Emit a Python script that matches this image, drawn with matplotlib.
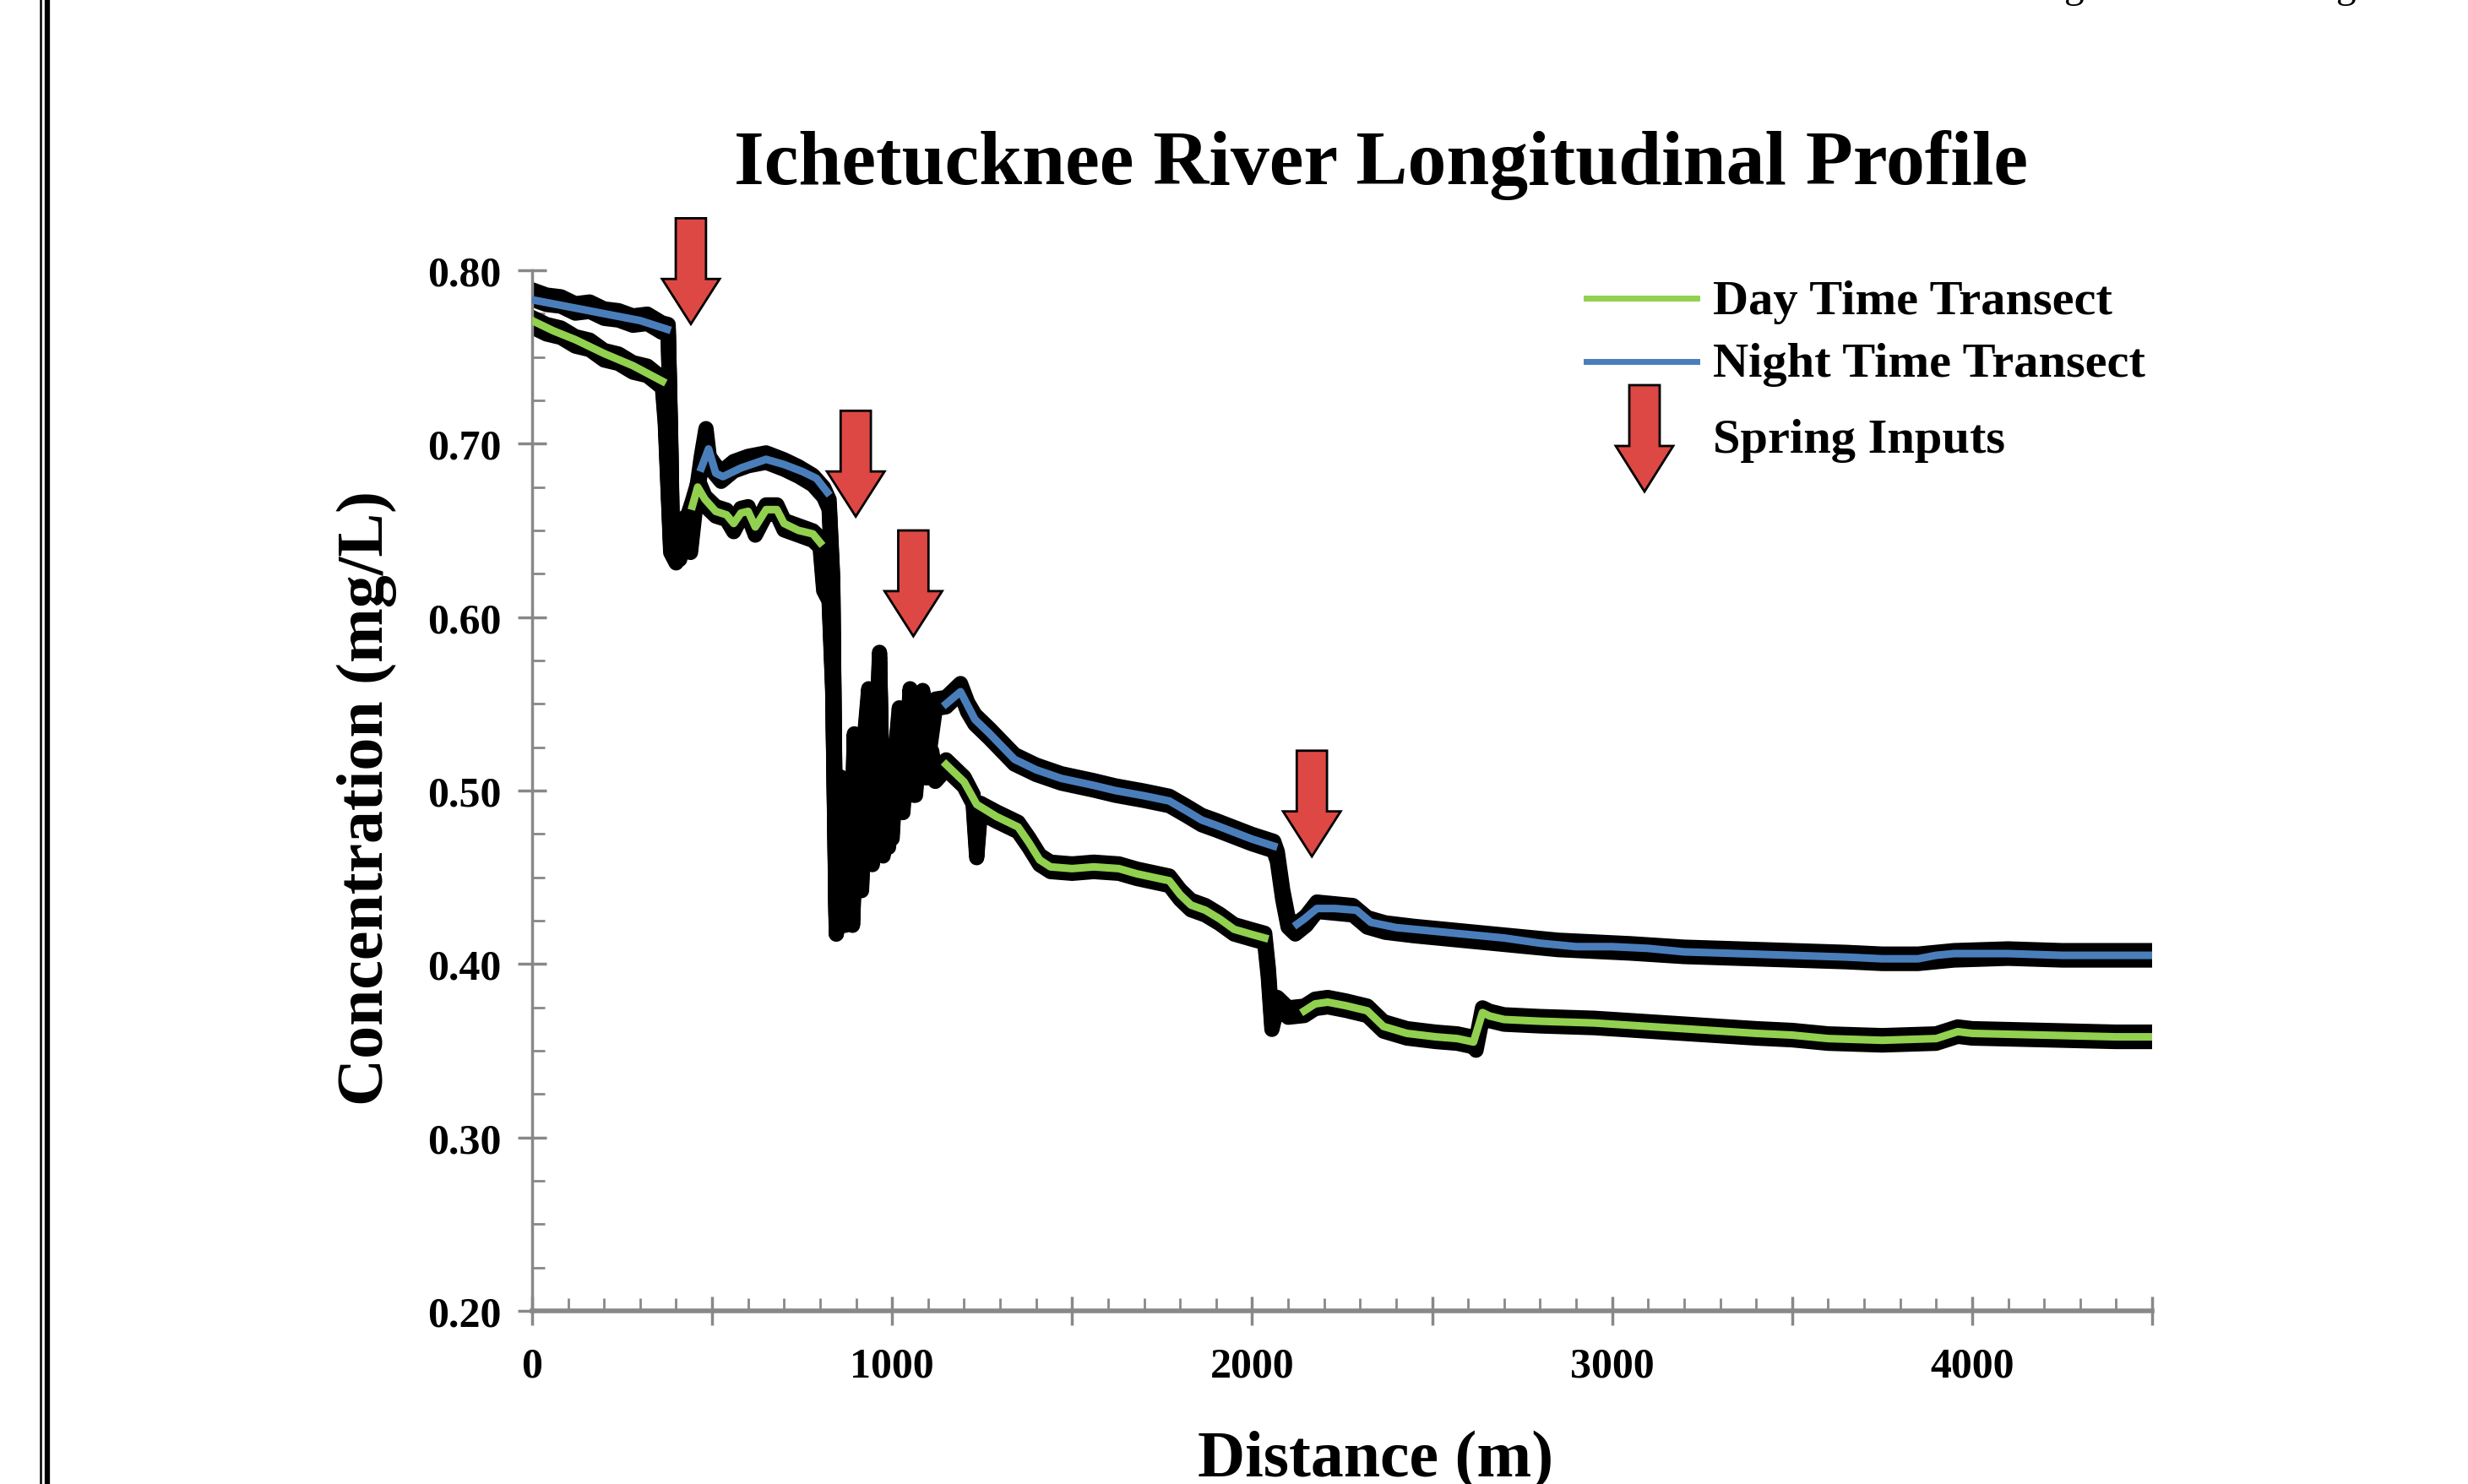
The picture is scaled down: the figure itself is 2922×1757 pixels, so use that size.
import numpy as np
import matplotlib
matplotlib.use('Agg')
import matplotlib.pyplot as plt
import matplotlib.patheffects as pe
from matplotlib.lines import Line2D
from matplotlib.patches import FancyArrow
from matplotlib.ticker import MultipleLocator, FuncFormatter

plt.rcParams['font.family'] = ['Liberation Serif', 'DejaVu Serif']

nan = np.nan

# raw (black) night-time transect, distance (m) / concentration (mg/L)
night_raw_d = [0, 40, 80, 120, 160, 200, 240, 280, 320, 360, 378, 385, 390, 410, 425, 440, 455, 470,
               483, 492, 505, 525, 560, 600, 650, 700, 740, 780, 810, 825, 835, 845, 858, 870,
               885, 895, 905, 920, 935, 950, 965, 975, 990, 1005, 1020, 1035, 1050, 1065, 1085,
               1100, 1120, 1150, 1190, 1210, 1230, 1270, 1340, 1400, 1470, 1560, 1620, 1700,
               1770, 1820, 1860, 1900, 1950, 2000, 2060, 2070, 2085, 2100, 2120, 2150, 2180,
               2230, 2280, 2320, 2370, 2450, 2550, 2650, 2750, 2850, 2950, 3050, 3200, 3350,
               3500, 3650, 3750, 3850, 3950, 4100, 4250, 4400, 4500]
night_raw_c = [0.786, 0.783, 0.782, 0.778, 0.779, 0.775, 0.774, 0.771, 0.772, 0.767, 0.766, 0.700,
               0.640, 0.636, 0.655, 0.640, 0.668, 0.690, 0.706, 0.690, 0.686, 0.681, 0.687,
               0.690, 0.692, 0.688, 0.684, 0.679, 0.672, 0.665, 0.620, 0.420, 0.505, 0.425,
               0.440, 0.530, 0.445, 0.520, 0.556, 0.480, 0.577, 0.470, 0.470, 0.510, 0.545,
               0.500, 0.556, 0.500, 0.555, 0.520, 0.550, 0.551, 0.559, 0.548, 0.541, 0.533,
               0.518, 0.512, 0.507, 0.503, 0.500, 0.497, 0.494, 0.488, 0.483, 0.480, 0.476,
               0.472, 0.468, 0.462, 0.440, 0.424, 0.420, 0.425, 0.433, 0.432, 0.431, 0.424,
               0.421, 0.419, 0.417, 0.415, 0.413, 0.411, 0.410, 0.409, 0.407, 0.406, 0.405,
               0.404, 0.403, 0.403, 0.405, 0.406, 0.405, 0.405, 0.405]

# raw (black) day-time transect
day_raw_d = [0, 40, 80, 120, 160, 200, 240, 280, 320, 362, 370, 385, 400, 420, 445, 462, 480,
             510, 540, 560, 580, 600, 620, 650, 680, 700, 740, 780, 800, 810, 825, 835,
             845, 855, 865, 880, 890, 900, 915, 930, 945, 960, 975, 990, 1000, 1015, 1030,
             1045, 1060, 1080, 1095, 1110, 1120, 1150, 1200, 1225, 1235, 1245, 1290, 1350,
             1380, 1410, 1440, 1500, 1560, 1630, 1680, 1770, 1800, 1830, 1870, 1910, 1950,
             2000, 2035, 2045, 2055, 2070, 2100, 2145, 2175, 2210, 2260, 2320, 2365, 2430,
             2510, 2570, 2615, 2622, 2640, 2660, 2700, 2800, 2950, 3100, 3250, 3400, 3500,
             3600, 3750, 3900, 3960, 4000, 4200, 4400, 4500]
day_raw_c = [0.770, 0.766, 0.764, 0.759, 0.757, 0.751, 0.749, 0.744, 0.742, 0.735, 0.714, 0.640,
             0.634, 0.648, 0.664, 0.676, 0.667, 0.661, 0.659, 0.652, 0.660, 0.661, 0.650,
             0.662, 0.662, 0.653, 0.650, 0.647, 0.643, 0.618, 0.612, 0.560, 0.420, 0.470,
             0.430, 0.500, 0.425, 0.480, 0.445, 0.520, 0.460, 0.500, 0.465, 0.490, 0.475,
             0.530, 0.490, 0.540, 0.500, 0.530, 0.510, 0.520, 0.508, 0.515, 0.505, 0.495,
             0.464, 0.490, 0.485, 0.479, 0.470, 0.460, 0.456, 0.455, 0.456, 0.455, 0.452,
             0.448, 0.440, 0.434, 0.431, 0.426, 0.420, 0.417, 0.415, 0.395, 0.365, 0.378,
             0.372, 0.373, 0.377, 0.378, 0.376, 0.373, 0.364, 0.360, 0.358, 0.357, 0.355,
             0.353, 0.372, 0.370, 0.368, 0.367, 0.366, 0.364, 0.362, 0.360, 0.359, 0.357,
             0.356, 0.357, 0.361, 0.360, 0.359, 0.358, 0.358]

# smoothed night-time transect (blue)
night_d = [0, 100, 200, 300, 375, nan, 470, 490, 510, 530, 580, 650, 700, 750, 790, 820, nan,
           1150, 1190, 1230, 1270, 1340, 1400, 1470, 1560, 1620, 1700, 1770, 1820, 1860, 1900,
           1950, 2000, 2060, nan, 2125, 2145, 2180, 2230, 2290, 2330, 2400, 2500, 2600, 2700,
           2800, 2900, 3000, 3100, 3200, 3350, 3500, 3650, 3750, 3850, 3900, 3950, 4100, 4250,
           4400, 4500]
night_c = [0.783, 0.779, 0.775, 0.771, 0.766, nan, 0.686, 0.697, 0.683, 0.681, 0.686, 0.691,
           0.688, 0.684, 0.680, 0.672, nan, 0.550, 0.557, 0.541, 0.533, 0.518, 0.512, 0.507,
           0.503, 0.500, 0.497, 0.494, 0.488, 0.483, 0.480, 0.476, 0.472, 0.468, nan, 0.423,
           0.426, 0.432, 0.432, 0.431, 0.424, 0.421, 0.419, 0.417, 0.415, 0.412, 0.410,
           0.410, 0.409, 0.407, 0.406, 0.405, 0.404, 0.403, 0.403, 0.405, 0.406, 0.406,
           0.405, 0.405, 0.405]

# smoothed day-time transect (green)
day_d = [0, 60, 120, 200, 280, 362, nan, 445, 460, 480, 510, 540, 560, 580, 600, 620, 650, 680,
         700, 740, 780, 800, nan, 1150, 1200, 1235, 1290, 1350, 1380, 1410, 1440, 1500, 1560,
         1630, 1680, 1770, 1800, 1830, 1870, 1910, 1950, 2000, 2035, nan, 2145, 2175, 2210,
         2260, 2320, 2365, 2430, 2510, 2570, 2615, 2640, 2660, 2700, 2800, 2950, 3100, 3250,
         3400, 3500, 3600, 3750, 3900, 3960, 4000, 4200, 4400, 4500]
day_c = [0.771, 0.765, 0.760, 0.752, 0.745, 0.736, nan, 0.664, 0.675, 0.668, 0.661, 0.659,
         0.654, 0.660, 0.661, 0.652, 0.662, 0.662, 0.654, 0.650, 0.648, 0.643, nan, 0.515,
         0.505, 0.492, 0.485, 0.479, 0.470, 0.460, 0.456, 0.455, 0.456, 0.455, 0.452, 0.448,
         0.440, 0.434, 0.431, 0.426, 0.420, 0.417, 0.415, nan, 0.373, 0.377, 0.378, 0.376,
         0.373, 0.364, 0.360, 0.358, 0.357, 0.355, 0.372, 0.370, 0.368, 0.367, 0.366, 0.364,
         0.362, 0.360, 0.359, 0.357, 0.356, 0.357, 0.361, 0.360, 0.359, 0.358, 0.358]

# spring input arrows: distance and concentration at arrow tip
spring_d = [441, 899, 1059, 2166]
spring_tip = [0.769, 0.658, 0.589, 0.462]

W, H = 2922, 1758
GREEN = '#92D050'
BLUE = '#4A7EBB'
RED = '#DD4844'
GREY = '#888888'

fig = plt.figure(figsize=(W / 100, H / 100), dpi=100)
ax = fig.add_axes([630 / W, 1 - 1553 / H, (2548 - 630) / W, (1553 - 321) / H])

# the raw traces are noisy, so the black band is taller than it is wide
fuzz = [pe.Stroke(offset=(0, 4), linewidth=13, foreground='black'),
        pe.Stroke(offset=(0, -4), linewidth=13, foreground='black'),
        pe.Normal()]
ax.plot(night_raw_d, night_raw_c, color='black', lw=13, solid_joinstyle='round', zorder=2,
        path_effects=fuzz)
ax.plot(day_raw_d, day_raw_c, color='black', lw=13, solid_joinstyle='round', zorder=2,
        path_effects=fuzz)
ax.plot(night_d, night_c, color=BLUE, lw=6.5, zorder=3)
ax.plot(day_d, day_c, color=GREEN, lw=6.5, zorder=3)

# arrows in data units: shaft / head width along x (m), lengths along y (mg/L)
arr_len = 0.061
for d, tip in zip(spring_d, spring_tip):
  ax.add_patch(FancyArrow(d, tip + arr_len, 0, -arr_len, width=84, head_width=160,
                          head_length=0.026, length_includes_head=True, fc=RED, ec='black',
                          lw=2, clip_on=False, zorder=5))

ax.set_xlim(0, 4500)
ax.set_ylim(0.2, 0.8)
ax.xaxis.set_major_locator(MultipleLocator(500))
ax.xaxis.set_minor_locator(MultipleLocator(100))
ax.xaxis.set_major_formatter(FuncFormatter(lambda v, p: f"{int(round(v))}" if round(v) % 1000 == 0 else ""))
ax.yaxis.set_major_locator(MultipleLocator(0.1))
ax.yaxis.set_minor_locator(MultipleLocator(0.025))
ax.yaxis.set_major_formatter(FuncFormatter(lambda v, p: f"{v:.2f}"))

for s in ['top', 'right']:
  ax.spines[s].set_visible(False)
ax.spines['left'].set_color(GREY)
ax.spines['left'].set_linewidth(2.5)
ax.spines['bottom'].set_color(GREY)
ax.spines['bottom'].set_linewidth(4)

ax.tick_params(which='major', direction='inout', length=25, width=2.5, color=GREY,
               labelsize=36)
ax.tick_params(which='minor', direction='in', length=11, width=2, color=GREY)
ax.tick_params(axis='y', which='major', pad=14)
ax.tick_params(axis='x', which='major', pad=18)
for lab in ax.get_xticklabels() + ax.get_yticklabels():
  lab.set_fontweight('bold')

fig.text(1635 / W, 1 - 218 / H, 'Ichetucknee River Longitudinal Profile', ha='center',
         va='baseline', fontsize=66, fontweight='bold')
fig.text(434 / W, 1 - 945 / H, 'Concentration (mg/L)', rotation=90, ha='center', va='center',
         fontsize=56, fontweight='bold')
fig.text(1629 / W, 1 - 1748 / H, 'Distance (m)', ha='center', va='baseline',
         fontsize=56, fontweight='bold')

# legend drawn by hand
fig.add_artist(Line2D([1878 / W, 2009 / W], [1 - 354 / H] * 2, color=GREEN, lw=5))
fig.add_artist(Line2D([1878 / W, 2009 / W], [1 - 429 / H] * 2, color=BLUE, lw=5))
fig.add_artist(FancyArrow(1947 / W, 1 - 457 / H, 0, -126 / H, width=36 / W, head_width=68 / W,
                          head_length=54 / H, length_includes_head=True, fc=RED, ec='black',
                          lw=2, transform=fig.transFigure))
fig.text(2028 / W, 1 - 358 / H, 'Day Time Transect', va='center', fontsize=42, fontweight='bold')
fig.text(2028 / W, 1 - 432 / H, 'Night Time Transect', va='center', fontsize=42, fontweight='bold')
fig.text(2028 / W, 1 - 522 / H, 'Spring Inputs', va='center', fontsize=42, fontweight='bold')

# page border on the left and clipped text at top right
fig.add_artist(Line2D([48 / W] * 2, [0, 1], color='black', lw=1.8))
fig.add_artist(Line2D([55.5 / W] * 2, [0, 1], color='black', lw=4.5))
fig.text(2456 / W, 1 + 3 / H, 'g', ha='center', va='baseline', fontsize=34)
fig.text(2778 / W, 1 + 3 / H, 'g', ha='center', va='baseline', fontsize=34)

fig.savefig('out.png', dpi=100)
